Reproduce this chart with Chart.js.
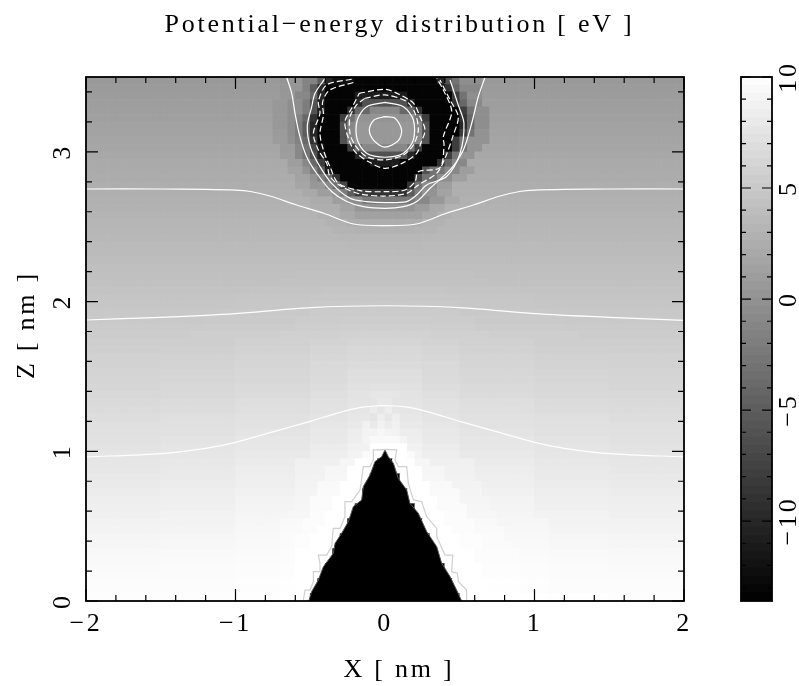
<!DOCTYPE html>
<html><head><meta charset="utf-8">
<script src="https://cdn.jsdelivr.net/npm/chart.js@4/dist/chart.umd.js"></script>
<style>html,body{margin:0;padding:0;background:#fff}#w{position:relative;width:799px;height:686px}canvas{position:absolute;top:0}</style>
</head><body><div id="w"><canvas id="c1" width="799" height="686" style="left:0"></canvas><canvas id="c2" width="99" height="686" style="left:700px"></canvas></div>
<script>
// Energy rows, top of plot first: pairs of [energy in eV, column where the run ends]
const energyRowsCharge = [
[.6,26,.2,29,-1.5,31,-5,32,-10,33,-12,36,-13.2,47,-10,48,-6,49,-3,50,-.5,53,.6,80],
[.7,26,.3,29,-1.5,30,-5,31,-10,32,-13.2,48,-9,49,-4,50,-1,53,.7,80],
[.85,26,.4,28,-1,30,-4,31,-10,32,-13.2,36,-11,43,-13.2,49,-8,50,-3,51,-.5,53,.85,80],
[1,25,.5,27,-.5,29,-2,30,-6,31,-11,32,-13.2,36,-10,37,-6,43,-10,44,-13.2,49,-9,50,-4,51,-1,53,1,80],
[1.1,25,.5,27,-.5,29,-2,30,-6,31,-11,32,-13.2,35,-9,36,-4,38,-1,42,-4,44,-9,45,-13.2,50,-8,51,-3,52,-.5,54,1.1,80],
[1.25,25,.5,27,-.5,28,-1.5,29,-4,30,-9,31,-13.2,34,-8,35,-3,36,0,44,-3,45,-8,46,-13.2,50,-9,51,-4,52,-.5,54,1.25,80],
[1.4,25,.5,27,-.5,28,-2,29,-5,30,-10,31,-13.2,34,-6,35,-1,36,.5,44,-1,45,-6,46,-13.2,50,-10,51,-4,52,-.5,54,1.4,80],
[1.5,25,.7,27,-.5,28,-2,29,-5,30,-10,31,-13.2,34,-6,35,-1,36,.5,44,-1,45,-6,46,-13.2,50,-8,51,-3,52,0,54,1.5,80],
[1.65,25,.8,27,-.3,28,-1.5,29,-4,30,-9,31,-13.2,34,-6,35,-1,36,.5,44,-1,45,-6,46,-13.2,49,-8,50,-3,51,0,54,1.65,80],
[1.8,26,.8,28,-1,29,-3,30,-7,31,-12,32,-13.2,35,-8,36,-3,37,-1,43,-3,44,-8,45,-13.2,49,-8,50,-3,51,0,53,1.8,80],
[1.95,26,1,28,-1,29,-3,30,-6,31,-11,32,-13.2,36,-10,37,-6,43,-10,44,-13.2,48,-8,49,-3,50,0,52,1.95,80],
[2.1,27,1,29,-1,30,-4,31,-8,32,-13.2,38,-11,42,-13.2,47,-9,48,-4,49,-1,51,2.1,80],
[2.2,27,1.5,29,0,30,-2,31,-5,32,-11,33,-13.2,45,-6,46,-3,48,-1,50,1,52,2.2,80],
[2.35,28,1.5,30,0,31,-2,32,-4,33,-9,34,-13.2,44,-7,45,-3,47,-.5,49,1.2,51,2.35,80],
[2.5,28,1.8,30,.5,32,-1,33,-3,34,-7,35,-13,36,-13.2,43,-9,44,-3,45,-.5,47,1,49,2.5,80],
[2.6,29,2,31,1,33,0,34,-2,35,-5,36,-8,38,-9,43,-5,44,-2,45,0,47,1.5,49,2.6,80],
[2.75,30,2.3,33,1,35,-.5,37,-2.5,44,-1,46,.5,48,2,50,2.75,80],
[2.9,30,2.5,34,1.5,36,.3,38,0,44,.8,46,2,48,2.9,80],
[3.05,31,2.7,34,2,36,1.3,45,2,47,2.7,49,3.05,80],
[3.2,32,2.9,35,2.4,45,2.9,48,3.2,80],
[3.35,33,3.1,36,2.9,44,3.1,47,3.35,80],
[3.45,34,3.3,45,3.45,80],
[3.6,35,3.5,45,3.6,80]
];
const energyRowsMiddle = [
[3.75,80],[3.9,80],
[4.05,30,4.1,50,4.05,80],
[4.15,28,4.25,52,4.15,80],
[4.3,26,4.4,54,4.3,80],
[4.45,22,4.55,32,4.65,48,4.55,58,4.45,80],
[4.6,20,4.7,30,4.85,50,4.7,60,4.6,80],
[4.75,20,4.85,30,5,50,4.85,60,4.75,80],
[4.9,18,5,30,5.2,50,5,62,4.9,80],
[5,16,5.1,28,5.3,34,5.4,46,5.3,52,5.1,64,5,80],
[5.15,16,5.3,28,5.5,34,5.6,46,5.5,52,5.3,64,5.15,80],
[5.3,14,5.45,26,5.65,34,5.8,46,5.65,54,5.45,66,5.3,80],
[5.45,10,5.5,20,5.7,30,5.95,35,6.15,45,5.95,50,5.7,60,5.5,70,5.45,80],
[5.6,10,5.65,20,5.85,30,6.15,35,6.35,45,6.15,50,5.85,60,5.65,70,5.6,80],
[5.7,10,5.8,20,6,30,6.3,35,6.5,45,6.3,50,6,60,5.8,70,5.7,80],
[5.85,10,5.95,20,6.15,30,6.45,35,6.7,45,6.45,50,6.15,60,5.95,70,5.85,80],
[6,10,6.1,20,6.3,30,6.6,35,6.9,45,6.6,50,6.3,60,6.1,70,6,80],
[6.1,10,6.2,20,6.4,30,6.7,35,7,45,6.7,50,6.4,60,6.2,70,6.1,80],
[6.25,10,6.35,20,6.55,30,6.85,35,7.2,38,7.3,42,7.2,45,6.85,50,6.55,60,6.35,70,6.25,80],
[6.4,10,6.5,20,6.7,30,7,35,7.4,38,7.7,42,7.4,45,7,50,6.7,60,6.5,70,6.4,80],
[6.6,10,6.7,20,6.9,30,7.2,35,7.5,39,7.9,41,7.5,45,7.2,50,6.9,60,6.7,70,6.6,80],
[6.7,10,6.8,20,7,30,7.3,35,7.6,38,8.2,39,7.7,40,8.3,41,7.7,42,7.6,45,7.3,50,7,60,6.8,70,6.7,80],
[6.85,10,7,20,7.2,30,7.5,35,7.8,38,7.5,39,8.4,40,7.8,41,8.5,42,7.8,45,7.5,50,7.2,60,7,70,6.85,80],
[7,10,7.1,20,7.35,30,7.7,35,8,37,8.7,38,8,39,8.8,40,8.2,41,8.7,42,8,45,7.7,50,7.35,60,7.1,70,7,80],
[7.1,10,7.25,20,7.5,30,7.85,35,8.3,37,8.9,39,9.3,40,8.9,42,8.3,45,7.85,50,7.5,60,7.25,70,7.1,80],
[7.25,10,7.4,20,7.65,30,8,35,8.4,37,9,38,9.4,42,9,43,8.4,45,8,50,7.65,60,7.4,70,7.25,80],
[7.4,10,7.55,20,7.8,30,8.2,35,8.7,38,10,43,8.7,45,8.2,50,7.8,60,7.55,70,7.4,80]
];
const energyRowsTip = [
[7.55,10,7.7,20,8,30,8.4,35,8.9,37,9.5,38,10,43,9.5,44,8.9,45,8.4,50,8,60,7.7,70,7.55,80],
[7.7,10,7.85,20,8.15,28,8.6,34,9.2,36,10,39,-13.6,41,10,44,9.2,46,8.6,52,8.15,60,7.85,70,7.7,80],
[7.8,10,7.95,20,8.3,28,8.7,32,9.2,35,10,39,-13.6,41,10,45,9.2,48,8.7,52,8.3,60,7.95,70,7.8,80],
[7.95,10,8.1,20,8.4,28,8.8,32,9.3,35,10,38,-13.6,42,10,45,9.3,48,8.8,52,8.4,60,8.1,70,7.95,80],
[8.1,10,8.25,20,8.55,28,8.9,31,9.4,34,10,38,-13.6,42,10,46,9.4,49,8.9,53,8.55,60,8.25,70,8.1,80],
[8.25,10,8.4,20,8.7,28,9,31,9.5,34,10,37,-13.6,43,10,46,9.5,50,9,53,8.7,60,8.4,70,8.25,80],
[8.4,10,8.55,20,8.85,28,9.1,30,9.6,33,10,37,-13.6,43,10,47,9.6,50,9.1,54,8.85,60,8.55,70,8.4,80],
[8.5,10,8.65,20,8.95,28,9.2,30,9.6,33,10,36,-13.6,44,10,47,9.6,51,9.2,54,8.95,60,8.65,70,8.5,80],
[8.65,10,8.8,20,9.05,27,9.3,30,9.7,32,10,36,-13.6,44,10,48,9.7,51,9.3,55,9.05,60,8.8,70,8.65,80],
[8.8,10,8.9,20,9.15,26,9.4,29,9.7,32,10,35,-13.6,45,10,48,9.7,52,9.4,55,9.15,62,8.9,70,8.8,80],
[8.9,10,9,20,9.25,26,9.5,29,9.75,31,10,35,-13.6,45,10,49,9.75,52,9.5,56,9.25,62,9,70,8.9,80],
[9.05,10,9.15,20,9.35,26,9.6,28,9.8,30,10,34,-13.6,46,10,50,9.8,53,9.6,56,9.35,62,9.15,70,9.05,80],
[9.2,10,9.3,20,9.45,26,9.65,28,9.85,30,10,34,-13.6,46,10,50,9.85,53,9.65,57,9.45,62,9.3,70,9.2,80],
[9.35,10,9.4,20,9.55,26,9.7,28,10,33,-13.6,47,10,52,9.7,58,9.55,62,9.4,70,9.35,80],
[9.45,10,9.5,20,9.6,26,9.75,28,10,33,-13.6,47,10,52,9.75,58,9.6,62,9.5,70,9.45,80],
[9.55,10,9.6,20,9.7,26,9.8,28,10,32,-13.6,48,10,53,9.8,58,9.7,62,9.6,70,9.55,80],
[9.6,10,9.65,20,9.75,26,9.85,28,10,32,-13.6,48,10,53,9.85,58,9.75,62,9.65,70,9.6,80],
[9.7,20,9.8,26,9.9,28,10,31,-13.6,49,10,54,9.9,58,9.8,62,9.7,80],
[9.75,20,9.85,26,9.95,28,10,31,-13.6,49,10,54,9.95,58,9.85,62,9.75,80],
[9.8,20,9.9,26,10,30,-13.6,50,10,62,9.9,70,9.8,80]
];
const zMajorTicks = [0,1,2,3];
const zMinorTicks = [.2,.4,.6,.8,1.2,1.4,1.6,1.8,2.2,2.4,2.6,2.8,3.2,3.4];
const xMajorTicks = [-2,-1,0,1,2];
const xMinorTicks = [-1.8,-1.6,-1.4,-1.2,-.8,-.6,-.4,-.2,.2,.4,.6,.8,1.2,1.4,1.6,1.8];
const barMajorTicks = [-10,-5,0,5,10];
const barMinorTicks = [-13,-12,-11,-9,-8,-7,-6,-4,-3,-2,-1,1,2,3,4,6,7,8,9];
const barLevels = [9.82,9.45,9.08,8.71,8.34,7.97,7.60,7.23,6.87,6.50,6.13,5.76,5.39,5.02,4.65,4.28,3.92,3.55,3.18,2.81,2.44,2.07,1.70,1.33,0.97,0.60,0.23,-0.14,-0.51,-0.88,-1.25,-1.62,-1.98,-2.35,-2.72,-3.09,-3.46,-3.83,-4.20,-4.57,-4.93,-5.30,-5.67,-6.04,-6.41,-6.78,-7.15,-7.52,-7.88,-8.25,-8.62,-8.99,-9.36,-9.73,-10.10,-10.47,-10.83,-11.20,-11.57,-11.94,-12.31,-12.68,-13.05,-13.42];
// Contours as [x, z] pairs in nm
const contourTop = [-2,2.752,-1.5,2.752,-1.2,2.75,-1,2.745,-.9,2.735,-.77,2.705,-.59,2.645,-.41,2.59,-.21,2.518,0,2.507,.21,2.518,.41,2.59,.59,2.645,.77,2.705,.9,2.735,1,2.745,1.2,2.75,1.5,2.752,2,2.752];
const contourMiddle = [-2,1.877,-1.5,1.895,-1,1.92,-.5,1.96,0,1.972,.5,1.96,1,1.92,1.5,1.895,2,1.875];
const contourLower = [-2,.962,-1.5,.985,-1.2,1.02,-1,1.06,-.75,1.13,-.5,1.2,-.3,1.26,-.15,1.295,0,1.305,.15,1.295,.3,1.26,.5,1.2,.75,1.13,1,1.06,1.2,1.02,1.5,.985,2,.962];
const ringSolidA = [-.658,3.498,-.624,3.391,-.602,3.258,-.569,3.102,-.524,2.968,-.457,2.857,-.357,2.735,-.256,2.668,-.145,2.634,0,2.623,.123,2.634,.212,2.668,.301,2.757,.435,2.879,.524,3.013,.58,3.191,.624,3.369,.669,3.498];
const ringSolidB = [-.401,3.491,-.468,3.391,-.49,3.302,-.52,3.169,-.497,3.024,-.435,2.901,-.357,2.79,-.234,2.69,-.123,2.668,0,2.661,.145,2.668,.212,2.712,.279,2.779,.412,2.835,.502,2.99,.528,3.191,.49,3.313,.435,3.48];
const ringDashC = [-.223,3.485,-.39,3.447,-.446,3.336,-.435,3.258,-.479,3.124,-.446,3.013,-.39,2.924,-.368,2.835,-.29,2.768,-.167,2.719,0,2.705,.145,2.723,.223,2.779,.346,2.857,.401,2.957,.457,3.113,.49,3.235,.435,3.347,.368,3.48];
const ringDashD = [-.212,3.463,-.368,3.414,-.417,3.336,-.412,3.247,-.435,3.124,-.412,3.013,-.368,2.901,-.312,2.79,-.167,2.741,0,2.734,.134,2.745,.201,2.801,.223,2.868,.368,2.895,.395,3.046,.39,3.102,.446,3.269,.39,3.414,.346,3.491];
const holeDashE = [-.172,3.391,0,3.418,.089,3.387,.19,3.325,.234,3.235,.268,3.146,.239,3.057,.212,2.99,.123,2.928,0,2.89,-.111,2.935,-.201,3.002,-.245,3.091,-.268,3.202,-.223,3.291,-.172,3.391];
const holeDashF = [-.134,3.358,0,3.38,.145,3.336,.201,3.258,.223,3.146,.19,3.046,.123,2.979,0,2.946,-.123,2.968,-.201,3.046,-.234,3.124,-.234,3.235,-.19,3.313,-.134,3.358];
const holeSolidG = [0,3.331,.123,3.302,.19,3.213,.19,3.08,.123,2.99,0,2.964,-.123,2.99,-.185,3.08,-.185,3.213,-.123,3.302,0,3.331];
const holeSolidH = [0,3.235,.067,3.225,.111,3.147,.089,3.075,0,3.031,-.074,3.075,-.105,3.147,-.074,3.213,0,3.235];
const tipOutline = [-.546,.007,-.535,.073,-.502,.073,-.479,.129,-.479,.196,-.435,.196,-.435,.252,-.446,.307,-.39,.307,-.357,.363,-.346,.485,-.301,.485,-.268,.563,-.268,.664,-.223,.664,-.167,.741,-.145,.897,-.1,.897,-.078,.942,-.078,1.009,-.033,1.009,0,1.013,.078,1.009,.067,.942,.089,.897,.145,.897,.156,.786,.19,.675,.245,.664,.279,.563,.346,.485,.346,.43,.401,.307,.453,.307,.446,.196,.484,.185,.491,.129,.546,.073,.546,.007];
const tipBody = [-.51,0,-.491,.062,-.446,.14,-.412,.229,-.346,.318,-.334,.385,-.29,.452,-.245,.53,-.212,.63,-.156,.675,-.145,.764,-.1,.842,-.067,.931,-.022,.964,0,1.009,.022,.964,.056,.92,.089,.819,.145,.741,.167,.652,.223,.586,.279,.463,.346,.363,.379,.252,.435,.163,.479,.073,.513,0];

const FONT='"Liberation Serif"', SPACE='2.75px', FS=26;
const ENERGY_MIN=-13.6, ENERGY_MAX=10;
function grayCont(v){const g=Math.round(Math.max(0,Math.min(1,(v-ENERGY_MIN)/(ENERGY_MAX-ENERGY_MIN)))*255);return `rgb(${g},${g},${g})`}
function pairs(a){const o=[];for(let i=0;i<a.length;i+=2)o.push({x:a[i],y:a[i+1]});return o}
const cells=[],cellColors=[];
[...energyRowsCharge,...energyRowsMiddle,...energyRowsTip].forEach((runs,r)=>{
  let c=0;
  for(let k=0;k<runs.length;k+=2){for(;c<runs[k+1]&&c<80;c++){cells.push({x:-2+.05*(c+.5),y:3.5-.05*(r+.5)});cellColors.push(grayCont(runs[k]))}}
});
function tickPlugin(id,edges){return {id,
  beforeDraw(ch){ch.ctx.letterSpacing=SPACE},
  afterDatasetsDraw(ch){const c=ch.ctx,a=ch.chartArea;c.save();c.strokeStyle='#000';c.lineWidth=1.2;c.beginPath();
    edges(ch).forEach(([s,vals,len,horizontal])=>{vals.forEach(v=>{const p=s.getPixelForValue(v);
      if(horizontal){c.moveTo(p,a.bottom);c.lineTo(p,a.bottom-len);c.moveTo(p,a.top);c.lineTo(p,a.top+len)}
      else{c.moveTo(a.left,p);c.lineTo(a.left+len,p);c.moveTo(a.right,p);c.lineTo(a.right-len,p)}})});
    c.stroke();c.lineWidth=1.8;c.strokeRect(a.left,a.top,a.right-a.left,a.bottom-a.top);c.restore();}}}
const lineSet=(d,dash,color,t)=>({type:'scatter',data:pairs(d),showLine:true,pointRadius:0,borderColor:color||'#fff',borderWidth:1.2,borderDash:dash||[],tension:t===undefined?.3:t,clip:0,order:1});
const D=[6,3];
new Chart(document.getElementById('c1'),{type:'scatter',
 data:{datasets:[
  {data:cells,pointStyle:'rect',pointRadius:5.75,pointBorderWidth:0,pointBackgroundColor:cellColors,clip:0,order:10},
  {type:'scatter',data:pairs(tipBody),showLine:true,pointRadius:0,borderColor:'#555',borderWidth:1,backgroundColor:'#000',fill:'origin',tension:0,clip:0,order:5},
  lineSet(contourTop),lineSet(contourMiddle),lineSet(contourLower),lineSet(ringSolidA),lineSet(ringSolidB),
  lineSet(ringDashC,D),lineSet(ringDashD,D),lineSet(holeDashE,D),lineSet(holeDashF,D),lineSet(holeSolidG),lineSet(holeSolidH),
  lineSet(tipOutline,null,'#d0d0d0',0)
 ]},
 options:{responsive:false,animation:false,events:[],
  layout:{padding:0},
  plugins:{legend:{display:false},tooltip:{enabled:false},
   title:{display:true,text:'Potential−energy distribution [ eV ]',color:'#000',font:{family:FONT,size:FS,weight:'normal'},padding:{top:9.4,bottom:36.4}}},
  scales:{
   x:{type:'linear',min:-2,max:2,position:'bottom',afterFit:s=>{s.height=85},afterBuildTicks:s=>{s.ticks=xMajorTicks.map(value=>({value}))},
    grid:{display:false},border:{display:false},
    ticks:{color:'#000',font:{family:FONT,size:FS},padding:0,maxRotation:0,autoSkip:false,callback:v=>String(v).replace('-','−')},
    title:{display:true,text:'   X [ nm ]',color:'#000',font:{family:FONT,size:FS},padding:{top:12,bottom:0}}},
   y:{type:'linear',min:0,max:3.5,position:'left',afterFit:s=>{s.width=86},afterBuildTicks:s=>{s.ticks=zMajorTicks.map(value=>({value}))},
    grid:{display:false},border:{display:false},
    ticks:{color:'#000',font:{family:FONT,size:FS},padding:8,minRotation:90,maxRotation:90,crossAlign:'center',autoSkip:false,callback:v=>String(v)},
    title:{display:true,text:'   Z [ nm ]',color:'#000',font:{family:FONT,size:FS},padding:{top:12,bottom:0}}},
   yRight:{type:'linear',min:0,max:3.5,position:'right',afterFit:s=>{s.width=115},grid:{display:false},border:{display:false},ticks:{display:false}}
  }},
 plugins:[tickPlugin('mainTicks',ch=>[[ch.scales.x,xMajorTicks,12,true],[ch.scales.x,xMinorTicks,6,true],[ch.scales.y,zMajorTicks,12,false],[ch.scales.y,zMinorTicks,6,false]])]
});
new Chart(document.getElementById('c2'),{type:'bar',
 data:{labels:barLevels.map(String),datasets:[{data:barLevels.map(()=>1),backgroundColor:barLevels.map(v=>grayCont(v)),inflateAmount:0.5,barPercentage:1,categoryPercentage:1,xAxisID:'bx',yAxisID:'band'}]},
 options:{indexAxis:'y',responsive:false,animation:false,events:[],
  layout:{padding:{top:77,bottom:85,left:41}},
  plugins:{legend:{display:false},tooltip:{enabled:false},title:{display:false}},
  scales:{
   bx:{type:'linear',min:0,max:1,display:false},
   band:{type:'category',display:false},
   energy:{type:'linear',min:ENERGY_MIN,max:ENERGY_MAX,offset:false,position:'right',afterFit:s=>{s.width=27},afterBuildTicks:s=>{s.ticks=barMajorTicks.map(value=>({value}))},
    grid:{display:false,drawTicks:false,offset:false},border:{display:false},
    ticks:{color:'#000',font:{family:FONT,size:FS},padding:-3,minRotation:90,maxRotation:90,crossAlign:'center',autoSkip:false,callback:v=>String(v).replace('-','−')}}
  }},
 plugins:[tickPlugin('barTicks',ch=>[[ch.scales.energy,barMajorTicks,10,false],[ch.scales.energy,barMinorTicks,5,false]])]
});
</script></body></html>
